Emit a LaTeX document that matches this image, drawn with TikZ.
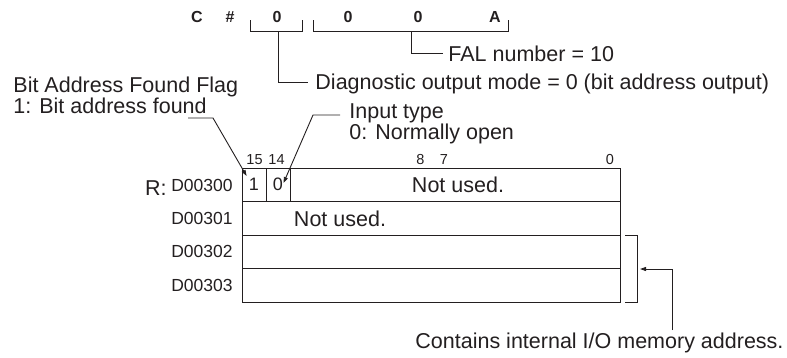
\documentclass[tikz,border=0pt]{standalone}
\usepackage{fontspec}
\setmainfont{Liberation Sans}
\usetikzlibrary{arrows.meta}
\definecolor{ink}{HTML}{231F20}
\newcommand\tightskip{\lineskiplimit=-30pt\relax}
\begin{document}
\begin{tikzpicture}[x=1pt,y=-1pt, line width=0.9pt, draw=ink, text=ink,
  big/.style={font=\fontsize{21.5}{18}\selectfont, inner sep=0pt},
  small/.style={font=\fontsize{17.5}{18}\selectfont, inner sep=0pt},
  bitno/.style={font=\fontsize{14.5}{14}\selectfont, inner sep=0pt},
  code/.style={font=\bfseries\fontsize{16}{16}\selectfont, inner sep=0pt},
  row/.style={draw, minimum width=378pt, minimum height=33.5pt, inner sep=0pt},
  bitcell/.style={draw, minimum width=24pt, minimum height=33.5pt, inner sep=0pt, font=\fontsize{18}{18}\selectfont},
  tip/.style={-{Triangle[length=6pt,width=4pt]}}]
\useasboundingbox (0,0) rectangle (787,357);
% top code
\node[code,anchor=base] (cc) at (197,22) {C};
\node[code,anchor=base] (hash) at (230,22) {\#};
\node[code,anchor=base] (d1) at (277,22) {0};
\node[code,anchor=base] (d2) at (348,22) {0};
\node[code,anchor=base] (d3) at (418,22) {0};
\node[code,anchor=base] (d4) at (495,22) {A};
% brackets
\coordinate (b1l) at (250,20); \coordinate (b1r) at (302,20);
\coordinate (b2l) at (313,20); \coordinate (b2r) at (508,20);
\draw (b1l) |- (302,31) -- (b1r);
\draw (b2l) |- (508,31) -- (b2r);
% labels for code
\node[big,anchor=base west] (fal) at (448,61) {FAL number = 10};
\node[big,anchor=base west] (diag) at (315,89) {Diagnostic output mode = 0 (bit address output)};
\coordinate (s1) at (278,31); \coordinate (s2) at (411,31);
\draw (s1) |- ([xshift=-7pt]diag.west |- 0,82);
\draw (s2) |- ([xshift=-5pt]fal.west |- 0,53);
% bit flag labels
\node[big,anchor=base west,align=left,font={\fontsize{21.5}{20.5}\selectfont\tightskip}] (flag) at (13,113) {Bit Address Found Flag\\1: Bit address found};
\node[big,anchor=base west,align=left,font={\fontsize{21.5}{21}\selectfont\tightskip}] (inp) at (349,139) {Input type\\0: Normally open};
% memory rows
\node[row] (r0) at (431,184.75) {};
\node[row] (r1) at (431,218.25) {};
\node[row] (r2) at (431,251.75) {};
\node[row] (r3) at (431,285.25) {};
\node[bitcell] (c15) at (254,184.75) {1};
\node[bitcell] (c14) at (278,184.75) {0};
\node[big] (nu0) at (458,185) {Not used.};
\node[big] (nu1) at (340,218.5) {Not used.};
% bit numbers
\node[bitno] (n15) at (254.5,160) {15};
\node[bitno] (n14) at (276.5,160) {14};
\node[bitno] (n8) at (420.5,160) {8};
\node[bitno] (n7) at (444,160) {7};
\node[bitno] (n0) at (610,160) {0};
% row labels
\node[big,anchor=base east] (rr) at (167,195) {R:};
\node[small,anchor=east] (l0) at (233,185) {D00300};
\node[small,anchor=east] (l1) at (233,218.5) {D00301};
\node[small,anchor=east] (l2) at (233,251.5) {D00302};
\node[small,anchor=east] (l3) at (233,285) {D00303};
% leaders
\coordinate (f0) at (188,118); \coordinate (f1) at (213,118); \coordinate (f2) at (246.6,176);
\draw[tip] (f0) -- (f1) -- (f2);
\coordinate (i0) at (340,115); \coordinate (i1) at (313,115); \coordinate (i2) at (283.5,183);
\draw[tip] (i0) -- (i1) -- (i2);
% right bracket and arrow
\coordinate (rb1) at (625,235); \coordinate (rb2) at (625,302);
\draw (rb1) -- (637,235) -- (637,302) -- (rb2);
\node[big,anchor=base west] (cont) at (415,348) {Contains internal I/O memory address.};
\coordinate (a0) at (672,330); \coordinate (a1) at (640,269);
\draw[tip] (a0) |- (a1);
\end{tikzpicture}
\end{document}
